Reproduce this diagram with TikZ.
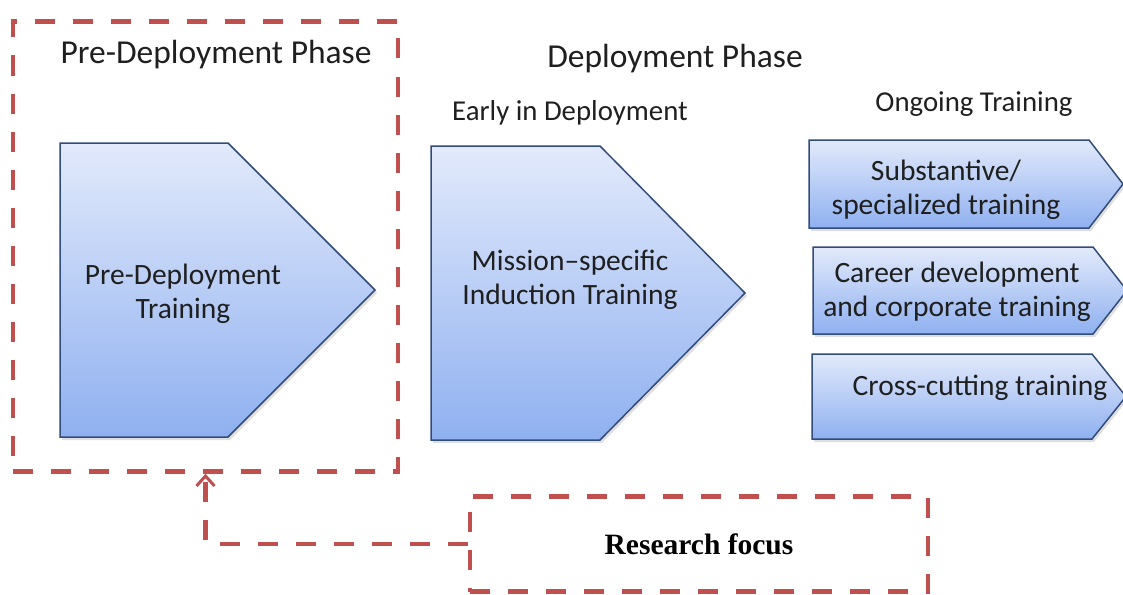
\documentclass[tikz,border=0pt]{standalone}
\usepackage{fontspec}
\setmainfont{Carlito}
\newfontfamily\focusfont{Liberation Serif}
\usetikzlibrary{positioning, arrows.meta, shadows}

\definecolor{focusred}{RGB}{192,80,77}
\definecolor{boxtop}{RGB}{226,234,251}
\definecolor{boxbottom}{RGB}{143,176,240}
\definecolor{boxline}{RGB}{50,76,122}

\tikzset{
	train box/.style={draw=boxline, line width=1.5pt, top color=boxtop, bottom color=boxbottom,
		drop shadow={opacity=0.25, shadow xshift=2pt, shadow yshift=-3pt}},
	train text/.style={align=center, text=black!88, font=\fontsize{29.5}{34}\selectfont},
	phase title/.style={text=black!88, font=\fontsize{33.5}{38}\selectfont},
	sub title/.style={text=black!88, font=\fontsize{28.8}{32}\selectfont},
	focus line/.style={draw=focusred, line width=4.5pt, dash pattern=on 20pt off 18pt},
	focus box/.style={focus line, inner sep=0pt, minimum width=#1},
}

\begin{document}
\begin{tikzpicture}[x=1pt, y=-1pt]

	\useasboundingbox (0,0) rectangle (1123,594);

	\path [train box] (60,143) -- (228,143) -- (375,290) -- (228,437) -- (60,437) -- cycle;
	\path [train box] (431,146) -- (600,146) -- (745,293) -- (600,440) -- (431,440) -- cycle;

	\foreach \x/\y/\h in {809/140/88, 813/247/87, 812/354/85}
		\path [train box] (\x,\y) -- ++(280,0) -- ++(34,\h/2) -- ++(-34,\h/2) -- ++(-280,0) -- cycle;

	\node [phase title] (pre-title) at (216,55) {Pre-Deployment Phase};
	\node [phase title] (dep-title) at (675,59) {Deployment Phase};
	\node [sub title] (early-title) at (570,113) {Early in Deployment};
	\node [sub title] (ongoing-title) at (974,104) {Ongoing Training};

	\node [train text] (pre-train) at (183,294) {Pre-Deployment\\Training};
	\node [train text] (induction) at (570,280) {Mission–specific\\Induction Training};
	\node [train text] (substantive) at (946,190) {Substantive/\\specialized training};
	\node [train text] (career) at (957,292) {Career development\\and corporate training};
	\node [train text] (cross) at (980,388) {Cross-cutting training};

	\node [focus box=385pt, minimum height=450pt] (prephase) at (205.5,246.5) {};
	\node [focus box=458pt, minimum height=95pt, font=\focusfont\bfseries\fontsize{29.5}{34}\selectfont]
		(focus) at (699,544) {Research focus};

	\draw [focus line, -{Straight Barb[length=10pt, width=18pt, line width=3pt]}]
		(focus.west) -| (prephase.south);

\end{tikzpicture}
\end{document}
